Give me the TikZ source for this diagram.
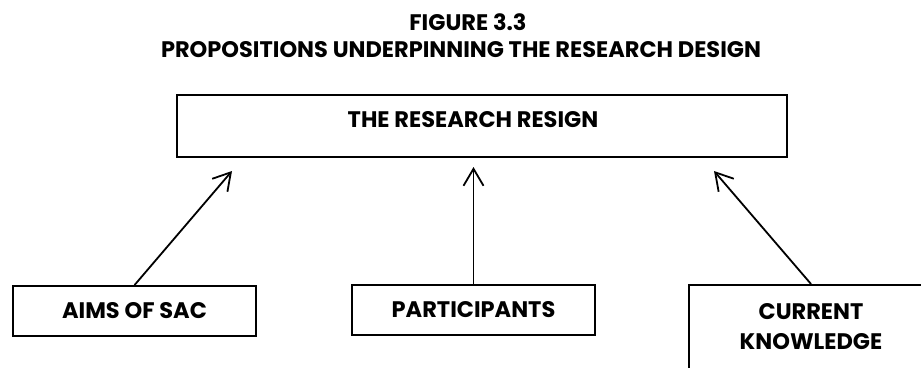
\documentclass[tikz,border=0pt]{standalone}
\usepackage{fontspec}
\setmainfont{Poppins}
\usetikzlibrary{arrows.meta}
\begin{document}
\begin{tikzpicture}[x=1pt,y=-1pt,
  lbl/.style={font=\fontsize{22.5}{26}\selectfont\bfseries, text=black},
  boxed/.style={draw=black, line width=1.8pt, inner sep=0pt},
  link/.style={draw=black, line width=1.8pt, -{Straight Barb[length=17pt,width=20pt,line width=1.8pt]}}]
  \useasboundingbox (0,0) rectangle (921,367);
  \clip (0,0) rectangle (921,367);
  % heading
  \node[lbl] (fig) at (468,22) {FIGURE 3.3};
  \node[lbl] (ttl) at (461,50) {PROPOSITIONS UNDERPINNING THE RESEARCH DESIGN};
  % central box
  \node[boxed, minimum width=610pt, minimum height=62pt] (rd) at (482,126) {};
  \node[lbl] (rdt) at (473,120) {THE RESEARCH RESIGN};
  % contributing boxes
  \node[boxed, lbl, minimum width=243pt, minimum height=50pt] (aims) at (134.5,311) {AIMS OF SAC};
  \node[boxed, lbl, minimum width=243pt, minimum height=50pt] (part) at (473.5,310) {PARTICIPANTS};
  \node[boxed, minimum width=244pt, minimum height=110pt, anchor=north] (know) at (811,284) {};
  \node[lbl, align=center] (knowt) at (811,327) {CURRENT\\[4pt]KNOWLEDGE};
  % arrow tips just under the central box
  \coordinate (ta) at (232,171);
  \coordinate (tp) at (473.5,167);
  \coordinate (tk) at (714,171);
  \draw[link] (aims.north) -- (ta);
  \draw[link] (part.north) -- (tp);
  \draw[link] (know.north) -- (tk);
\end{tikzpicture}
\end{document}
